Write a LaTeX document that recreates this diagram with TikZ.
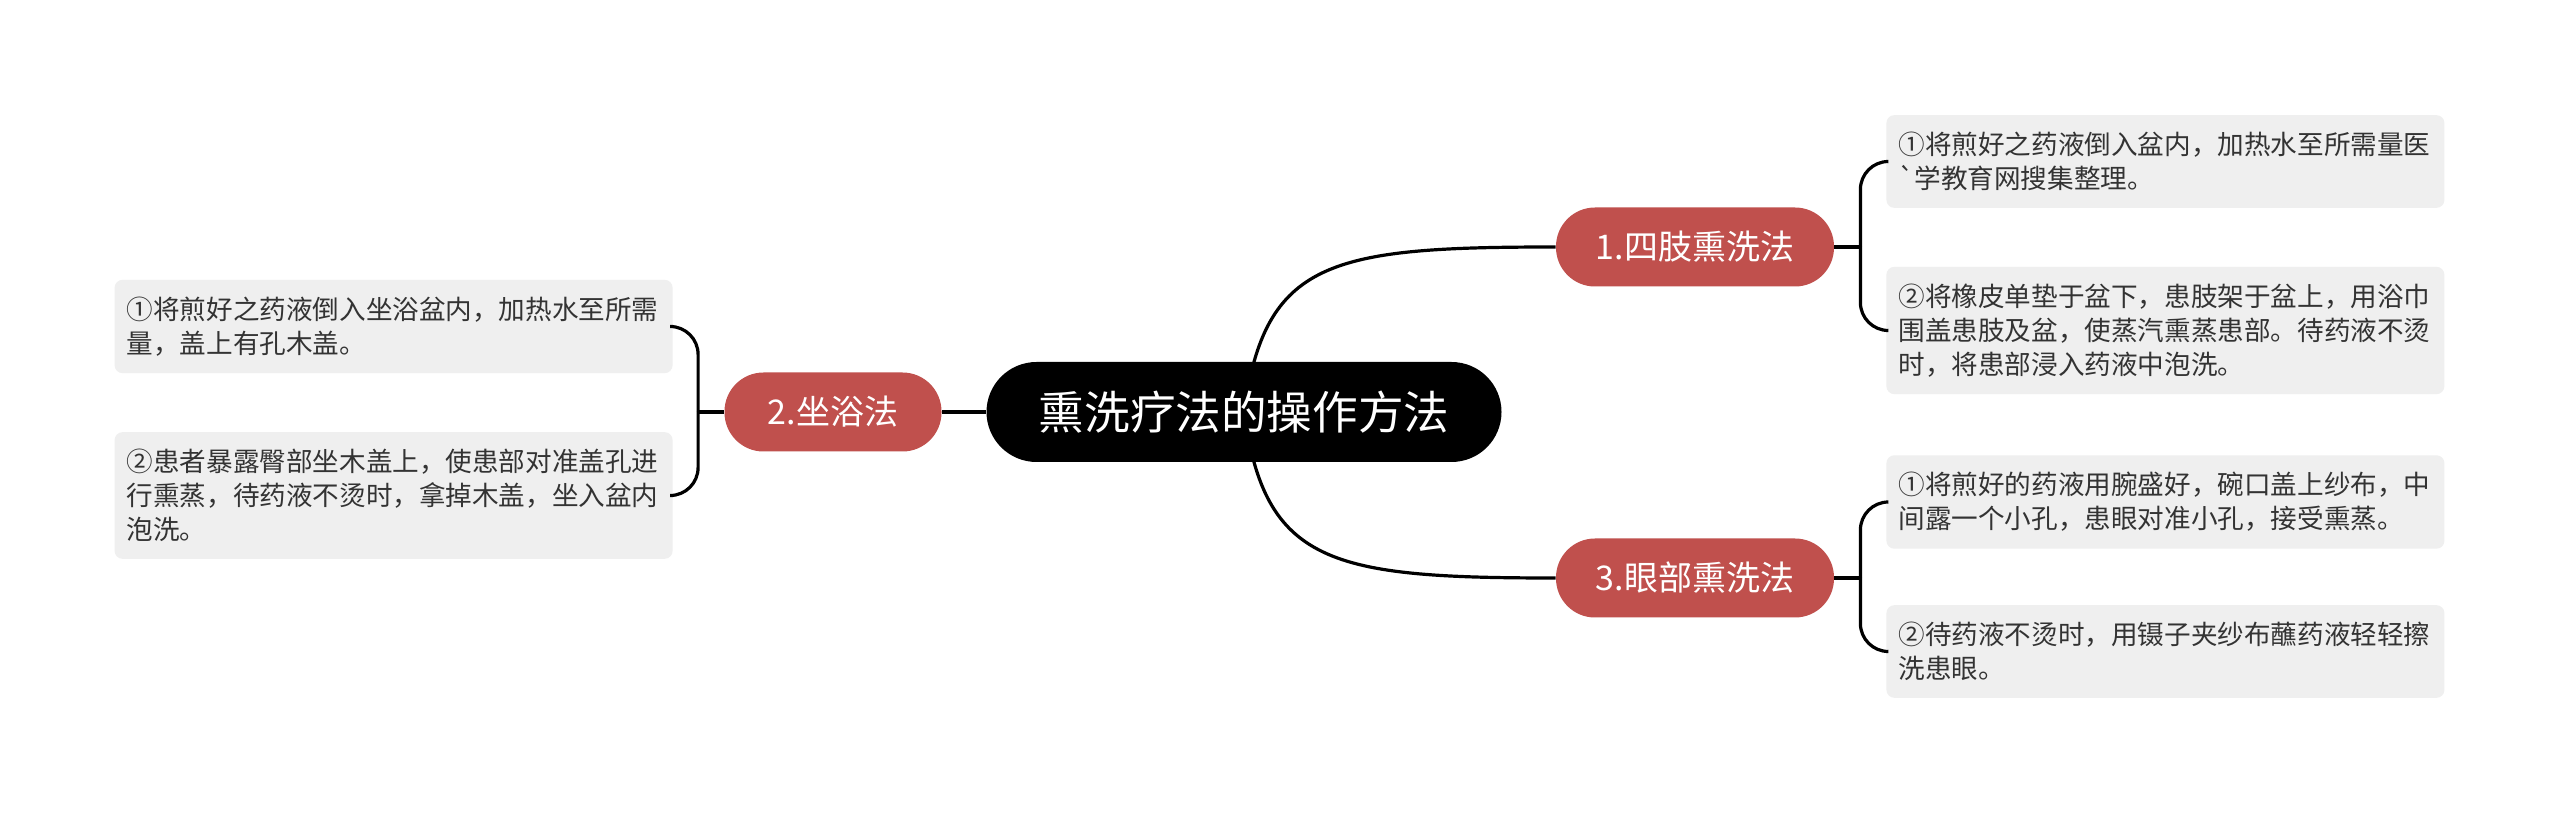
\documentclass[tikz,border=0pt]{standalone}
\usepackage{fontspec}
\newfontfamily\cjkfont{Noto Sans CJK SC}
\usepackage{tikz}
\usetikzlibrary{backgrounds}
\definecolor{topicred}{RGB}{192,80,77}
\definecolor{leafgray}{RGB}{239,239,239}
\definecolor{leaftext}{RGB}{51,51,51}
\tikzstyle{link} = [line width=1.6pt,black]
\tikzstyle{topic} = [fill=black,text=white,rounded corners=25pt,minimum width=257.5pt,minimum height=50pt,font=\cjkfont\fontsize{22.8pt}{27pt}\selectfont]
\tikzstyle{sub} = [fill=topicred,text=white,rounded corners=19.5pt,minimum height=39.5pt,font=\cjkfont\fontsize{17pt}{20pt}\selectfont]
\tikzstyle{leaf} = [fill=leafgray,text=leaftext,rounded corners=4pt,text width=267pt,align=left,inner xsep=6pt,inner ysep=8.5pt,font=\cjkfont\fontsize{13.3pt}{17pt}\selectfont]

\begin{document}
\begin{tikzpicture}[x=0.5pt,y=-0.5pt]
          \useasboundingbox (0,0) rectangle (2560,817);
          \node[topic] at (1244,412) (root) {熏洗疗法的操作方法};

          \node[sub,minimum width=139pt] at (1695,247) (s1) {1.四肢熏洗法};
          \node[sub,minimum width=108.5pt] at (833,412) (s2) {2.坐浴法};
          \node[sub,minimum width=139pt] at (1695,578) (s3) {3.眼部熏洗法};

          \node[leaf,anchor=west] at (1886,161.5) (l11) {①将煎好之药液倒入盆内，加热水至所需量医\\`学教育网搜集整理。};
          \node[leaf,anchor=west] at (1886,330.5) (l12) {②将橡皮单垫于盆下，患肢架于盆上，用浴巾\\围盖患肢及盆，使蒸汽熏蒸患部。待药液不烫\\时，将患部浸入药液中泡洗。};
          \node[leaf,anchor=east] at (673,326.5) (l21) {①将煎好之药液倒入坐浴盆内，加热水至所需\\量，盖上有孔木盖。};
          \node[leaf,anchor=east] at (673,495.5) (l22) {②患者暴露臀部坐木盖上，使患部对准盖孔进\\行熏蒸，待药液不烫时，拿掉木盖，坐入盆内\\泡洗。};
          \node[leaf,anchor=west] at (1886,502) (l31) {①将煎好的药液用腕盛好，碗口盖上纱布，中\\间露一个小孔，患眼对准小孔，接受熏蒸。};
          \node[leaf,anchor=west] at (1886,651.5) (l32) {②待药液不烫时，用镊子夹纱布蘸药液轻轻擦\\洗患眼。};

          \begin{scope}[on background layer]
          \fill[white] (0,0) rectangle (2560,817);
          \draw[link] (root.center) .. controls (1265,260) and (1330,247) .. (s1.west);
          \draw[link] (root.center) .. controls (1265,564) and (1330,578) .. (s3.west);
          \draw[link] (root.west) -- (s2.east);
          \end{scope}

          \draw[link] (s1.east) -- ++(26,0) coordinate (j1);
          \draw[link,rounded corners=14pt] (j1) |- (l11.west);
          \draw[link,rounded corners=14pt] (j1) |- (l12.west);
          \draw[link] (s3.east) -- ++(26,0) coordinate (j3);
          \draw[link,rounded corners=14pt] (j3) |- (l31.west);
          \draw[link,rounded corners=14pt] (j3) |- (l32.west);
          \draw[link] (s2.west) -- ++(-26,0) coordinate (j2);
          \draw[link,rounded corners=14pt] (j2) |- (l21.east);
          \draw[link,rounded corners=14pt] (j2) |- (l22.east);
\end{tikzpicture}
\end{document}
